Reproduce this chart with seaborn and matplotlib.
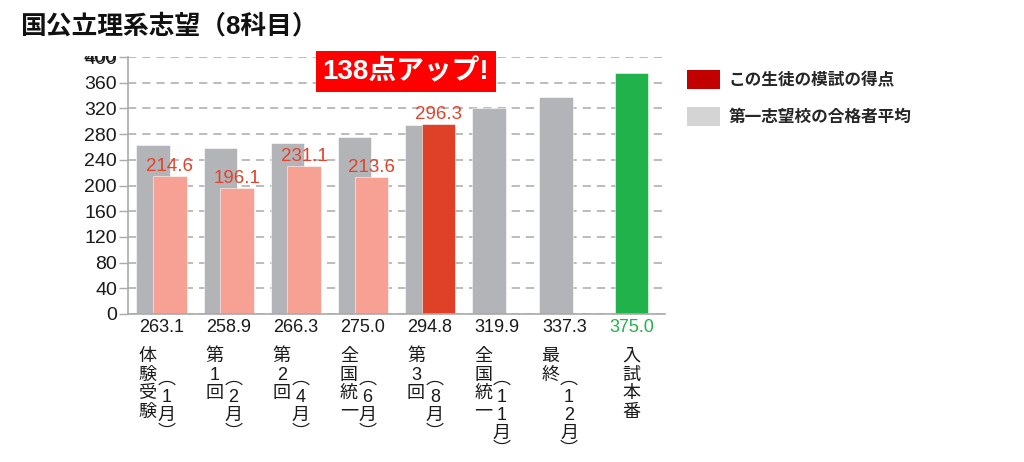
import matplotlib
matplotlib.use("Agg")
import matplotlib.pyplot as plt
import matplotlib.transforms as mtransforms
from matplotlib.patches import Patch, Rectangle
import seaborn as sns

# ---------------- data ----------------
categories = ["体験受験", "第1回", "第2回", "全国統一", "第3回", "全国統一", "最終", "入試本番"]
months = ["1月", "2月", "4月", "6月", "8月", "11月", "12月", ""]
school_avg = [263.1, 258.9, 266.3, 275.0, 294.8, 319.9, 337.3]      # 第一志望校の合格者平均 (first 7)
student_mock = [214.6, 196.1, 231.1, 213.6]                         # この生徒の模試の得点 (first 4)
student_third = [296.3]                                             # 第3回 (8月)
final_exam = [375.0]                                                # 入試本番
yticks = [0, 40, 80, 120, 160, 200, 240, 280, 320, 360, 400]
title = "国公立理系志望（8科目）"
banner = "138点アップ!"
legend_labels = ["この生徒の模試の得点", "第一志望校の合格者平均"]

keys = [c + (f"（{m}）" if m else "") for c, m in zip(categories, months)]
bottom_vals = school_avg + final_exam
bottom_labels = [f"{v:.1f}" for v in bottom_vals]

# ---------------- style ----------------
sns.set_theme(style="white")
plt.rcParams["font.family"] = ["Liberation Sans", "Noto Sans CJK JP"]
plt.rcParams["axes.unicode_minus"] = False

GRAY = "#b3b4b8"
PINK = "#f6a193"
RED = "#df4128"
GREEN = "#22b24c"
LABEL_RED = "#e2432c"
TXT = "#1a1a1a"
AXC = "#aaaaaa"

fig = plt.figure(figsize=(10.24, 4.62), dpi=100)
ax = fig.add_axes([128 / 1024, 1 - 314 / 462, 537 / 1024, 257 / 462])


def bars(n, vals, color, offset, start=0):
    n0 = len(ax.patches)
    sns.barplot(x=keys[start:start + n], y=vals, order=keys, color=color,
                width=0.5, saturation=1, errorbar=None, ax=ax,
                edgecolor=(1, 1, 1, 0.55), linewidth=0.7)
    new = ax.patches[n0:]
    for p in new:
        p.set_x(p.get_x() + offset)
    return new


bars(len(school_avg), school_avg, GRAY, -0.125)
mock_patches = bars(len(student_mock), student_mock, PINK, 0.125)
third_patches = bars(1, student_third, RED, 0.125, start=4)
bars(1, final_exam, GREEN, 0.0, start=7)

# value labels above the student's bars
for p in list(mock_patches) + list(third_patches):
    h = p.get_height()
    if h and h > 0:
        ax.annotate(f"{h:.1f}", xy=(p.get_x() + p.get_width() / 2, h),
                    xytext=(0, 3.5), textcoords="offset points",
                    ha="center", va="baseline", color=LABEL_RED, fontsize=13.5)

# axes
ax.set_xlim(-0.5, 7.5)
ax.set_ylim(0, 397)
ax.set_yticks(yticks)
ax.set_yticklabels([str(v) for v in yticks])
ax.set_xlabel("")
ax.set_ylabel("")
ax.set_xticks(range(len(keys)))
ax.set_xticklabels(bottom_labels)
ax.set_xticks([i - 0.5 for i in range(len(keys) + 1)], minor=True)
ax.tick_params(axis="x", which="major", length=0, pad=3.5, labelsize=13, labelcolor=TXT)
ax.tick_params(axis="x", which="minor", length=6, width=1, color=AXC, direction="out")
ax.tick_params(axis="y", which="major", length=6.5, width=1, color=AXC, direction="out",
               pad=1.5, labelsize=14, labelcolor=TXT, left=True)
ax.get_xticklabels()[-1].set_color(GREEN)

ax.yaxis.grid(True, linestyle=(0, (5.4, 3.9)), color=AXC, linewidth=1.1)
ax.xaxis.grid(False)
ax.set_axisbelow(True)
for s in ["top", "right"]:
    ax.spines[s].set_visible(False)
for s in ["left", "bottom"]:
    ax.spines[s].set_color(AXC)
    ax.spines[s].set_linewidth(1.2)

# the partially hidden "400" label at the top
ax.annotate("400", xy=(0, 400), xycoords=("axes fraction", "data"),
            xytext=(-8.2, 0), textcoords="offset points", ha="right", va="center",
            fontsize=14, color=TXT, annotation_clip=False)
fig.add_artist(Rectangle((60 / 1024, 1 - 56 / 462), 66 / 1024, 16 / 462,
                         transform=fig.transFigure, facecolor="white",
                         edgecolor="none", zorder=10))

# vertical category labels
trans = mtransforms.blended_transform_factory(ax.transData, fig.transFigure)
VFS = 13
VLS = 1.12
for i, (c, m) in enumerate(zip(categories, months)):
    if m:
        ax.text(i - 0.21, 1 - 348 / 462, "\n".join(c), transform=trans, ha="center",
                va="top", fontsize=VFS, color=TXT, linespacing=VLS, clip_on=False)
        ax.text(i + 0.07, 1 - 371 / 462, "\n".join("︵" + m + "︶"), transform=trans,
                ha="center", va="top", fontsize=VFS, color=TXT, linespacing=VLS * 0.95,
                clip_on=False)
    else:
        ax.text(i, 1 - 348 / 462, "\n".join(c), transform=trans, ha="center",
                va="top", fontsize=VFS, color=TXT, linespacing=VLS, clip_on=False)

# title
fig.text(20 / 1024, 1 - 26 / 462, title, ha="left", va="center", fontsize=18.5,
         fontweight="bold", color="#111111")

# banner
fig.add_artist(Rectangle((316 / 1024, 1 - 92 / 462), 180 / 1024, 41 / 462,
                         transform=fig.transFigure, facecolor="#ff0000",
                         edgecolor="none", zorder=5))
fig.text(406 / 1024, 1 - 72 / 462, banner, ha="center", va="center", fontsize=20,
         fontweight="bold", color="white", zorder=6)

# legend
handles = [Patch(facecolor="#c30000", edgecolor="none"),
           Patch(facecolor="#d4d4d4", edgecolor="none")]
fig.legend(handles, legend_labels, loc="upper left",
           bbox_to_anchor=(687 / 1024, 1 - 70 / 462), frameon=False,
           borderpad=0, borderaxespad=0, handlelength=2.0, handleheight=1.35,
           handletextpad=0.5, labelspacing=1.1,
           prop={"weight": "bold", "size": 12})

fig.savefig("out.png", dpi=100)
